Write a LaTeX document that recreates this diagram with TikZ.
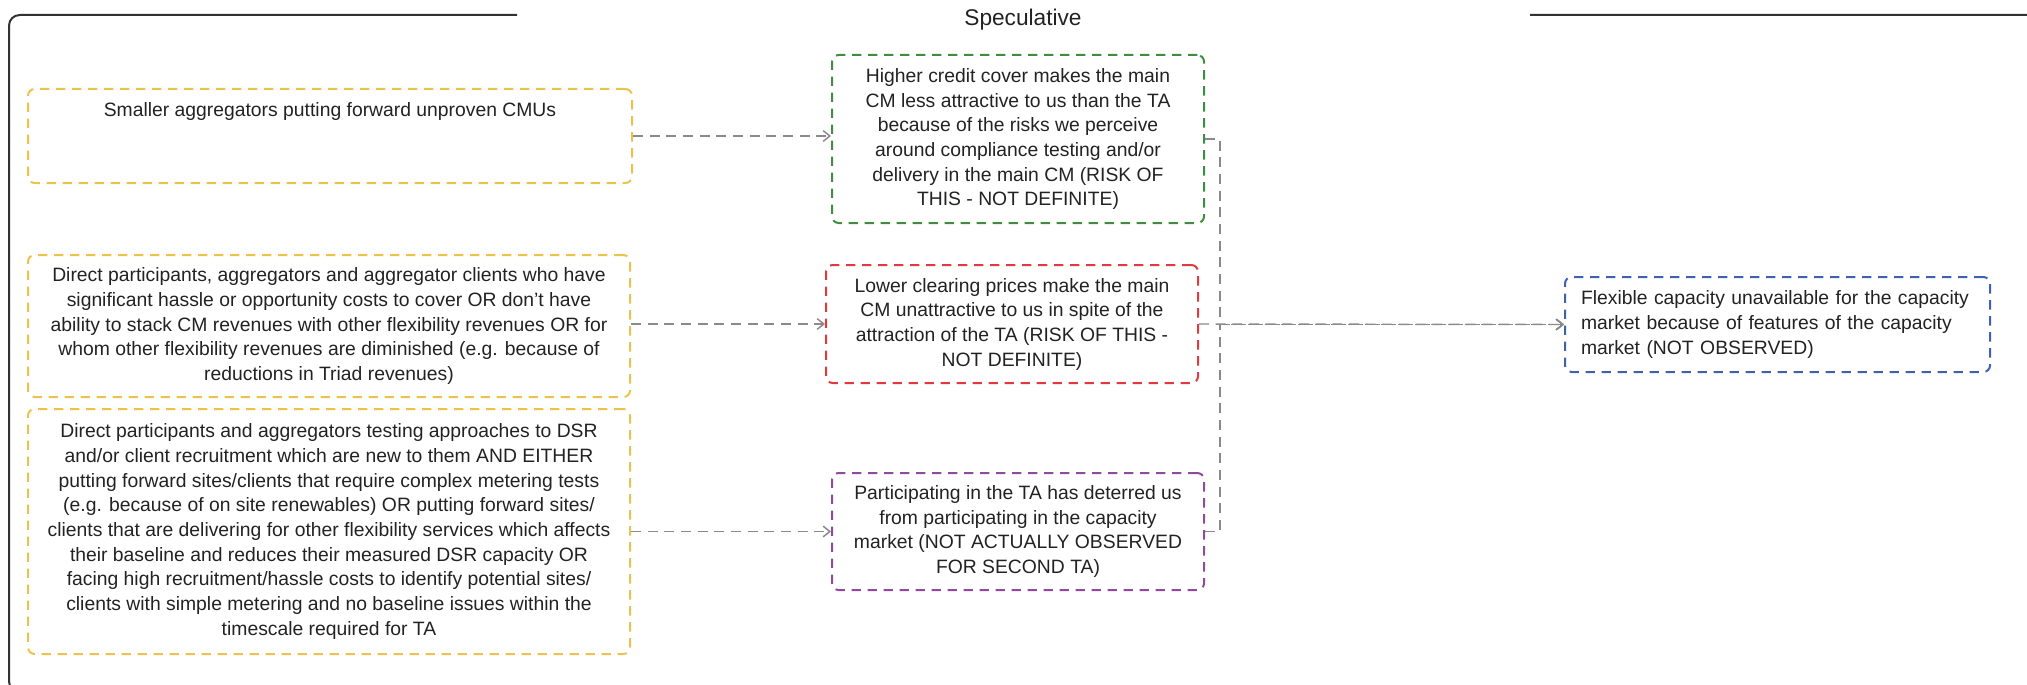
\documentclass[tikz,border=0pt]{standalone}
\usepackage{fontspec}
\setmainfont{Liberation Sans}
\usetikzlibrary{arrows.meta}

\definecolor{framecol}{HTML}{333333}
\definecolor{txt}{HTML}{222222}
\definecolor{ycol}{HTML}{EDC24A}
\definecolor{gcol}{HTML}{3E8E3E}
\definecolor{rcol}{HTML}{E0393E}
\definecolor{pcol}{HTML}{8E4A9E}
\definecolor{bcol}{HTML}{3D62B3}
\definecolor{linkcol}{HTML}{8A8A8A}

\tikzset{
  factor/.style={draw, line width=1.5pt, dash pattern=on 7pt off 5pt,
    rounded corners=5pt, inner sep=0pt, align=center, text=txt,
    font=\fontsize{14.5pt}{18.5pt}\selectfont},
  link/.style={draw=linkcol, line width=1.1pt, dash pattern=on 7.5pt off 5pt,
    -{Straight Barb[length=5pt,width=8pt,line width=1.1pt]}},
}

\begin{document}
\begin{tikzpicture}[x=0.75pt,y=-0.75pt]
\useasboundingbox (0,0) rectangle (2027,685);

% group frame with its title
\begin{scope}
  \clip (0,0) rectangle (2027,685);
  \draw[framecol, line width=1.5pt, rounded corners=8pt]
    (517,15) -- (9,15) -- (9,692) -- (2040,692) -- (2040,15) -- (1530,15);
\end{scope}
\node[anchor=base, text=txt, inner sep=0pt, font=\fontsize{17pt}{20pt}\selectfont]
  (title) at (1023,26) {Speculative};

% left column: contributing factors
\node[factor, draw=ycol, minimum width=453pt, text height=21pt, text depth=49.5pt]
  (y1) at (330,136) {Smaller aggregators putting forward unproven CMUs};
\node[factor, draw=ycol, minimum width=451.5pt, minimum height=106.5pt]
  (y2) at (329,326) {Direct participants, aggregators and aggregator clients who have\\
  significant hassle or opportunity costs to cover OR don't have\\
  ability to stack CM revenues with other flexibility revenues OR for\\
  whom other flexibility revenues are diminished (e.g. because of\\
  reductions in Triad revenues)};
\node[factor, draw=ycol, minimum width=451.5pt, minimum height=183.75pt]
  (y3) at (329,531.5) {Direct participants and aggregators testing approaches to DSR\\
  and/or client recruitment which are new to them AND EITHER\\
  putting forward sites/clients that require complex metering tests\\
  (e.g. because of on site renewables) OR putting forward sites/\\
  clients that are delivering for other flexibility services which affects\\
  their baseline and reduces their measured DSR capacity OR\\
  facing high recruitment/hassle costs to identify potential sites/\\
  clients with simple metering and no baseline issues within the\\
  timescale required for TA};

% middle column: effects
\node[factor, draw=gcol, minimum width=279pt, minimum height=126pt]
  (green) at (1018,139) {Higher credit cover makes the main\\
  CM less attractive to us than the TA\\
  because of the risks we perceive\\
  around compliance testing and/or\\
  delivery in the main CM (RISK OF\\
  THIS - NOT DEFINITE)};
\node[factor, draw=rcol, minimum width=279pt, minimum height=88.5pt]
  (red) at (1012,324) {Lower clearing prices make the main\\
  CM unattractive to us in spite of the\\
  attraction of the TA (RISK OF THIS -\\
  NOT DEFINITE)};
\node[factor, draw=pcol, minimum width=279pt, minimum height=87.75pt]
  (purple) at (1018,531.5) {Participating in the TA has deterred us\\
  from participating in the capacity\\
  market (NOT ACTUALLY OBSERVED\\
  FOR SECOND TA)};

% right: outcome
\node[factor, draw=bcol, align=left, inner xsep=12pt, text width=294.75pt,
  minimum height=71.25pt]
  (blue) at (1777.5,324.5) {Flexible capacity unavailable for the capacity\\
  market because of features of the capacity\\
  market (NOT OBSERVED)};

% connectors
\draw[link] (y1.east) -- (y1.east -| green.west);
\draw[link] (y2.east |- red.west) -- (red.west);
\draw[link] (y3.east |- purple.west) -- (purple.west);
\draw[link] (green.east) -- ++(15,0) |- (blue.west);
\draw[link] (red.east) -- (blue.west);
\draw[link] (purple.east) -- ++(15,0) |- (blue.west);
\end{tikzpicture}
\end{document}
